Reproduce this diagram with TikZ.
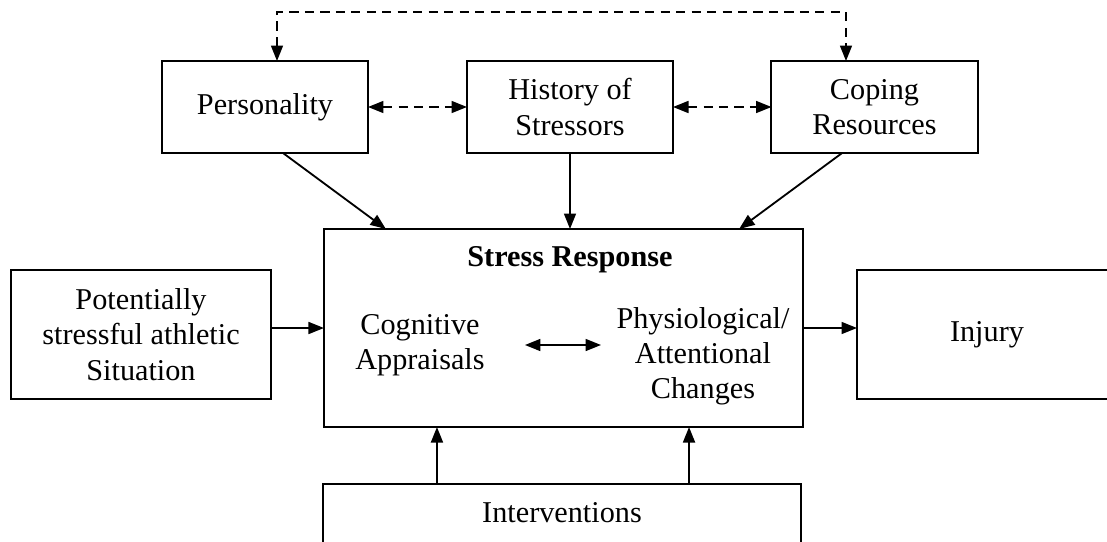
\documentclass[tikz,border=0pt]{standalone}
\usepackage{fontspec}
\setmainfont{Liberation Serif}
\usetikzlibrary{arrows.meta}

\tikzset{
  plainbox/.style={draw, line width=1.4pt, rectangle, outer sep=0pt, align=center,
    font=\fontsize{21.5}{25}\selectfont},
  topbox/.style={plainbox, minimum width=5.15cm, minimum height=2.3cm},
  sidebox/.style={plainbox, minimum width=6.5cm, minimum height=3.225cm},
  intext/.style={align=center, inner sep=0pt, font=\fontsize{21.5}{25}\selectfont},
  link/.style={line width=1.3pt, -{Triangle[length=11pt,width=8.5pt]}},
  twolink/.style={line width=1.3pt, {Triangle[length=11pt,width=8.5pt]}-{Triangle[length=11pt,width=8.5pt]}},
  dlink/.style={twolink, dash pattern=on 6.5pt off 4.5pt}
}

\begin{document}
\begin{tikzpicture}[x=0.025cm, y=-0.025cm]
\useasboundingbox (0,0) rectangle (1107,541);
\clip (0,0) rectangle (1107,541);
% top row
\node[topbox] (pers) at (265,107) {Personality};
\node[topbox] (hist) at (570,107) {History of\\Stressors};
\node[topbox] (cope) at (874.5,107) {Coping\\Resources};
% middle row
\node[sidebox] (sit) at (141,334.5) {Potentially\\stressful athletic\\Situation};
\node[plainbox, minimum width=11.975cm, minimum height=4.95cm] (stress) at (563.5,328) {};
\node[sidebox] (injury) at (987,334.5) {Injury};
\node[plainbox, minimum width=11.95cm, minimum height=1.7cm] (interv) at (562,518) {};
\node[intext] (intervtext) at (562,513) {Interventions};
% inside the stress box
\node[intext, font=\fontsize{21.5}{25}\selectfont\bfseries] (title) at (570,260) {Stress Response};
\node[intext] (cog) at (420,345) {Cognitive\\Appraisals};
\node[intext] (phys) at (703,356.5) {Physiological/\\Attentional\\Changes};
\coordinate (lt) at (277,12);
\coordinate (rt) at (846,12);
% dashed links
\draw[dlink] (pers.north -| lt) -- (lt) -- (rt) -- (cope.north -| rt);
\draw[dlink] (pers.east) -- (hist.west);
\draw[dlink] (hist.east) -- (cope.west);
% solid links
\draw[link] ([xshift=0.45cm]pers.south) -- ([xshift=-4.44cm]stress.north);
\draw[link] (hist.south) -- (hist.south |- stress.north);
\draw[link] ([xshift=-0.81cm]cope.south) -- ([xshift=4.39cm]stress.north);
\draw[link] (sit.east |- stress.west) -- (stress.west);
\draw[link] (stress.east) -- (stress.east -| injury.west);
\draw[twolink, shorten <=1cm, shorten >=0.38cm] (cog.east) -- (cog.east -| phys.west);
\draw[link] ([xshift=-3.125cm]interv.north) -- ([xshift=-3.125cm]interv.north |- stress.south);
\draw[link] ([xshift=3.175cm]interv.north) -- ([xshift=3.175cm]interv.north |- stress.south);
\end{tikzpicture}
\end{document}
